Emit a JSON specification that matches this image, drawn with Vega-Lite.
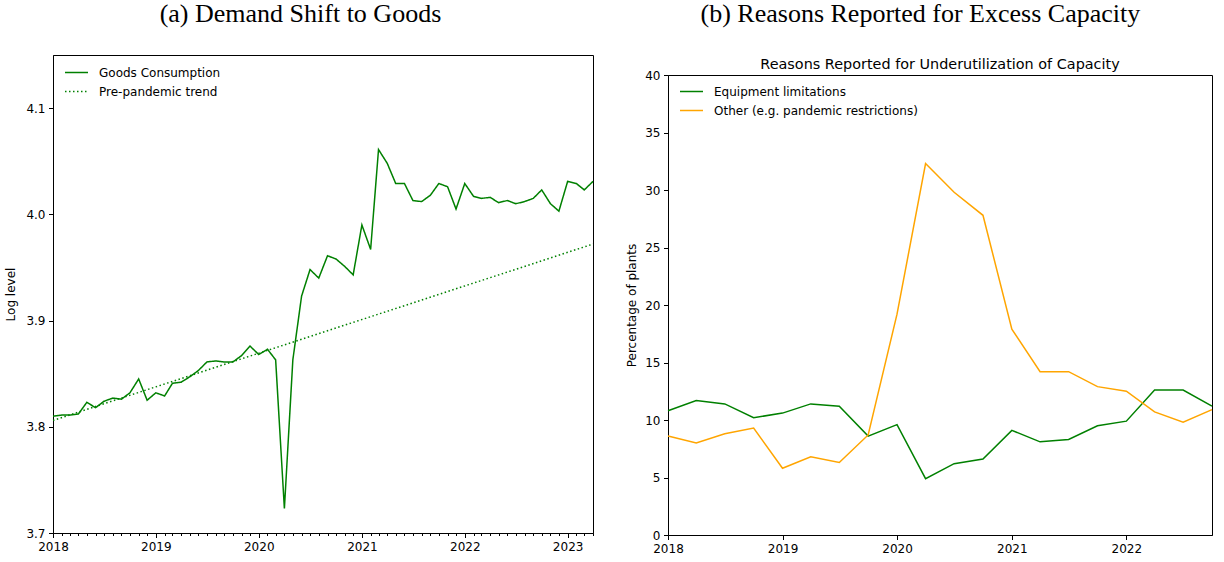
{
  "$schema": "https://vega.github.io/schema/vega-lite/v6.json",
  "background": "white",
  "padding": {"left": 4, "top": 0, "right": 8, "bottom": 4},
  "spacing": 28,
  "datasets": {
    "goods": [
      {"date": "2018-01-01", "value": 3.810, "series": "Goods Consumption"},
      {"date": "2018-02-01", "value": 3.811, "series": "Goods Consumption"},
      {"date": "2018-03-01", "value": 3.811, "series": "Goods Consumption"},
      {"date": "2018-04-01", "value": 3.812, "series": "Goods Consumption"},
      {"date": "2018-05-01", "value": 3.823, "series": "Goods Consumption"},
      {"date": "2018-06-01", "value": 3.818, "series": "Goods Consumption"},
      {"date": "2018-07-01", "value": 3.824, "series": "Goods Consumption"},
      {"date": "2018-08-01", "value": 3.827, "series": "Goods Consumption"},
      {"date": "2018-09-01", "value": 3.826, "series": "Goods Consumption"},
      {"date": "2018-10-01", "value": 3.832, "series": "Goods Consumption"},
      {"date": "2018-11-01", "value": 3.845, "series": "Goods Consumption"},
      {"date": "2018-12-01", "value": 3.825, "series": "Goods Consumption"},
      {"date": "2019-01-01", "value": 3.832, "series": "Goods Consumption"},
      {"date": "2019-02-01", "value": 3.829, "series": "Goods Consumption"},
      {"date": "2019-03-01", "value": 3.841, "series": "Goods Consumption"},
      {"date": "2019-04-01", "value": 3.842, "series": "Goods Consumption"},
      {"date": "2019-05-01", "value": 3.847, "series": "Goods Consumption"},
      {"date": "2019-06-01", "value": 3.853, "series": "Goods Consumption"},
      {"date": "2019-07-01", "value": 3.861, "series": "Goods Consumption"},
      {"date": "2019-08-01", "value": 3.862, "series": "Goods Consumption"},
      {"date": "2019-09-01", "value": 3.861, "series": "Goods Consumption"},
      {"date": "2019-10-01", "value": 3.861, "series": "Goods Consumption"},
      {"date": "2019-11-01", "value": 3.867, "series": "Goods Consumption"},
      {"date": "2019-12-01", "value": 3.876, "series": "Goods Consumption"},
      {"date": "2020-01-01", "value": 3.868, "series": "Goods Consumption"},
      {"date": "2020-02-01", "value": 3.873, "series": "Goods Consumption"},
      {"date": "2020-03-01", "value": 3.863, "series": "Goods Consumption"},
      {"date": "2020-04-01", "value": 3.723, "series": "Goods Consumption"},
      {"date": "2020-05-01", "value": 3.863, "series": "Goods Consumption"},
      {"date": "2020-06-01", "value": 3.923, "series": "Goods Consumption"},
      {"date": "2020-07-01", "value": 3.948, "series": "Goods Consumption"},
      {"date": "2020-08-01", "value": 3.940, "series": "Goods Consumption"},
      {"date": "2020-09-01", "value": 3.961, "series": "Goods Consumption"},
      {"date": "2020-10-01", "value": 3.958, "series": "Goods Consumption"},
      {"date": "2020-11-01", "value": 3.951, "series": "Goods Consumption"},
      {"date": "2020-12-01", "value": 3.943, "series": "Goods Consumption"},
      {"date": "2021-01-01", "value": 3.990, "series": "Goods Consumption"},
      {"date": "2021-02-01", "value": 3.967, "series": "Goods Consumption"},
      {"date": "2021-03-01", "value": 4.061, "series": "Goods Consumption"},
      {"date": "2021-04-01", "value": 4.048, "series": "Goods Consumption"},
      {"date": "2021-05-01", "value": 4.029, "series": "Goods Consumption"},
      {"date": "2021-06-01", "value": 4.029, "series": "Goods Consumption"},
      {"date": "2021-07-01", "value": 4.013, "series": "Goods Consumption"},
      {"date": "2021-08-01", "value": 4.012, "series": "Goods Consumption"},
      {"date": "2021-09-01", "value": 4.018, "series": "Goods Consumption"},
      {"date": "2021-10-01", "value": 4.029, "series": "Goods Consumption"},
      {"date": "2021-11-01", "value": 4.026, "series": "Goods Consumption"},
      {"date": "2021-12-01", "value": 4.005, "series": "Goods Consumption"},
      {"date": "2022-01-01", "value": 4.029, "series": "Goods Consumption"},
      {"date": "2022-02-01", "value": 4.017, "series": "Goods Consumption"},
      {"date": "2022-03-01", "value": 4.015, "series": "Goods Consumption"},
      {"date": "2022-04-01", "value": 4.016, "series": "Goods Consumption"},
      {"date": "2022-05-01", "value": 4.011, "series": "Goods Consumption"},
      {"date": "2022-06-01", "value": 4.013, "series": "Goods Consumption"},
      {"date": "2022-07-01", "value": 4.010, "series": "Goods Consumption"},
      {"date": "2022-08-01", "value": 4.012, "series": "Goods Consumption"},
      {"date": "2022-09-01", "value": 4.015, "series": "Goods Consumption"},
      {"date": "2022-10-01", "value": 4.023, "series": "Goods Consumption"},
      {"date": "2022-11-01", "value": 4.010, "series": "Goods Consumption"},
      {"date": "2022-12-01", "value": 4.003, "series": "Goods Consumption"},
      {"date": "2023-01-01", "value": 4.031, "series": "Goods Consumption"},
      {"date": "2023-02-01", "value": 4.029, "series": "Goods Consumption"},
      {"date": "2023-03-01", "value": 4.023, "series": "Goods Consumption"},
      {"date": "2023-04-01", "value": 4.031, "series": "Goods Consumption"},
      {"date": "2018-01-01", "value": 3.806, "series": "Pre-pandemic trend"},
      {"date": "2023-04-01", "value": 3.972, "series": "Pre-pandemic trend"}
    ],
    "capacity": [
      {"date": "2018-01-01", "pct": 10.8, "reason": "Equipment limitations"},
      {"date": "2018-04-01", "pct": 11.7, "reason": "Equipment limitations"},
      {"date": "2018-07-01", "pct": 11.4, "reason": "Equipment limitations"},
      {"date": "2018-10-01", "pct": 10.2, "reason": "Equipment limitations"},
      {"date": "2019-01-01", "pct": 10.6, "reason": "Equipment limitations"},
      {"date": "2019-04-01", "pct": 11.4, "reason": "Equipment limitations"},
      {"date": "2019-07-01", "pct": 11.2, "reason": "Equipment limitations"},
      {"date": "2019-10-01", "pct": 8.6, "reason": "Equipment limitations"},
      {"date": "2020-01-01", "pct": 9.6, "reason": "Equipment limitations"},
      {"date": "2020-04-01", "pct": 4.9, "reason": "Equipment limitations"},
      {"date": "2020-07-01", "pct": 6.2, "reason": "Equipment limitations"},
      {"date": "2020-10-01", "pct": 6.6, "reason": "Equipment limitations"},
      {"date": "2021-01-01", "pct": 9.1, "reason": "Equipment limitations"},
      {"date": "2021-04-01", "pct": 8.1, "reason": "Equipment limitations"},
      {"date": "2021-07-01", "pct": 8.3, "reason": "Equipment limitations"},
      {"date": "2021-10-01", "pct": 9.5, "reason": "Equipment limitations"},
      {"date": "2022-01-01", "pct": 9.9, "reason": "Equipment limitations"},
      {"date": "2022-04-01", "pct": 12.6, "reason": "Equipment limitations"},
      {"date": "2022-07-01", "pct": 12.6, "reason": "Equipment limitations"},
      {"date": "2022-10-01", "pct": 11.2, "reason": "Equipment limitations"},
      {"date": "2018-01-01", "pct": 8.6, "reason": "Other (e.g. pandemic restrictions)"},
      {"date": "2018-04-01", "pct": 8.0, "reason": "Other (e.g. pandemic restrictions)"},
      {"date": "2018-07-01", "pct": 8.8, "reason": "Other (e.g. pandemic restrictions)"},
      {"date": "2018-10-01", "pct": 9.3, "reason": "Other (e.g. pandemic restrictions)"},
      {"date": "2019-01-01", "pct": 5.8, "reason": "Other (e.g. pandemic restrictions)"},
      {"date": "2019-04-01", "pct": 6.8, "reason": "Other (e.g. pandemic restrictions)"},
      {"date": "2019-07-01", "pct": 6.3, "reason": "Other (e.g. pandemic restrictions)"},
      {"date": "2019-10-01", "pct": 8.7, "reason": "Other (e.g. pandemic restrictions)"},
      {"date": "2020-01-01", "pct": 19.2, "reason": "Other (e.g. pandemic restrictions)"},
      {"date": "2020-04-01", "pct": 32.3, "reason": "Other (e.g. pandemic restrictions)"},
      {"date": "2020-07-01", "pct": 29.8, "reason": "Other (e.g. pandemic restrictions)"},
      {"date": "2020-10-01", "pct": 27.8, "reason": "Other (e.g. pandemic restrictions)"},
      {"date": "2021-01-01", "pct": 17.9, "reason": "Other (e.g. pandemic restrictions)"},
      {"date": "2021-04-01", "pct": 14.2, "reason": "Other (e.g. pandemic restrictions)"},
      {"date": "2021-07-01", "pct": 14.2, "reason": "Other (e.g. pandemic restrictions)"},
      {"date": "2021-10-01", "pct": 12.9, "reason": "Other (e.g. pandemic restrictions)"},
      {"date": "2022-01-01", "pct": 12.5, "reason": "Other (e.g. pandemic restrictions)"},
      {"date": "2022-04-01", "pct": 10.7, "reason": "Other (e.g. pandemic restrictions)"},
      {"date": "2022-07-01", "pct": 9.8, "reason": "Other (e.g. pandemic restrictions)"},
      {"date": "2022-10-01", "pct": 10.9, "reason": "Other (e.g. pandemic restrictions)"}
    ]
  },
  "resolve": {
    "scale": {"color": "independent", "strokeDash": "independent"},
    "legend": {"color": "independent", "strokeDash": "independent"}
  },
  "hconcat": [
    {
      "title": {"text": "(a) Demand Shift to Goods", "frame": "bounds", "offset": 28},
      "width": 540,
      "height": 478,
      "data": {"name": "goods"},
      "mark": {"type": "line", "strokeWidth": 1.5},
      "encoding": {
        "x": {
          "field": "date",
          "type": "temporal",
          "title": null,
          "scale": {"domain": [{"year": 2018, "month": 1, "date": 1}, {"year": 2023, "month": 4, "date": 1}], "nice": false},
          "axis": {
            "tickCount": {"interval": "month", "step": 1},
            "labelExpr": "month(datum.value) === 0 ? timeFormat(datum.value, '%Y') : ''",
            "labelOverlap": false,
            "tickSize": {"condition": {"test": "month(datum.value) === 0", "value": 4.5}, "value": 2.5}
          }
        },
        "y": {
          "field": "value",
          "type": "quantitative",
          "title": "Log level",
          "scale": {"domain": [3.7, 4.15], "nice": false, "zero": false},
          "axis": {"values": [3.7, 3.8, 3.9, 4.0, 4.1], "format": ".1f", "titlePadding": 8}
        },
        "color": {
          "field": "series",
          "type": "nominal",
          "scale": {"domain": ["Goods Consumption", "Pre-pandemic trend"], "range": ["#008000", "#008000"]},
          "legend": {"orient": "none", "legendX": 11, "legendY": 5}
        },
        "strokeDash": {
          "field": "series",
          "type": "nominal",
          "scale": {"domain": ["Goods Consumption", "Pre-pandemic trend"], "range": [[1, 0], [1.5, 2.5]]},
          "legend": {"orient": "none", "legendX": 11, "legendY": 5}
        }
      }
    },
    {
      "title": {"text": "(b) Reasons Reported for Excess Capacity", "frame": "bounds", "offset": 28},
      "spacing": -24,
      "resolve": {"legend": {"color": "independent"}},
      "vconcat": [
        {
          "width": 544,
          "height": 0,
          "view": {"stroke": null},
          "data": {"values": []},
          "mark": "point"
        },
        {
          "title": {
            "text": "Reasons Reported for Underutilization of Capacity",
            "frame": "group",
            "font": "DejaVu Sans",
            "fontSize": 14.4,
            "offset": -3
          },
          "width": 544,
          "height": 460,
          "data": {"name": "capacity"},
          "mark": {"type": "line", "strokeWidth": 1.5},
          "encoding": {
            "x": {
              "field": "date",
              "type": "temporal",
              "title": null,
              "scale": {"domain": [{"year": 2018, "month": 1, "date": 1}, {"year": 2022, "month": 10, "date": 1}], "nice": false},
              "axis": {"tickCount": {"interval": "year", "step": 1}, "format": "%Y"}
            },
            "y": {
              "field": "pct",
              "type": "quantitative",
              "title": "Percentage of plants",
              "scale": {"domain": [0, 40], "nice": false},
              "axis": {"values": [0, 5, 10, 15, 20, 25, 30, 35, 40], "titlePadding": 6}
            },
            "color": {
              "field": "reason",
              "type": "nominal",
              "scale": {"domain": ["Equipment limitations", "Other (e.g. pandemic restrictions)"], "range": ["#008000", "#FFA500"]},
              "legend": {"orient": "none", "legendX": 11, "legendY": 4}
            }
          }
        }
      ]
    }
  ],
  "config": {
    "font": "DejaVu Sans",
    "view": {"stroke": "black", "strokeWidth": 1},
    "title": {
      "font": "Liberation Serif",
      "fontSize": 26,
      "fontWeight": "normal",
      "color": "black",
      "anchor": "middle"
    },
    "axis": {
      "grid": false,
      "labelFlush": false,
      "domainColor": "black",
      "tickColor": "black",
      "tickSize": 4.5,
      "labelFont": "DejaVu Sans",
      "labelFontSize": 12,
      "labelColor": "black",
      "labelPadding": 3.5,
      "titleFont": "DejaVu Sans",
      "titleFontSize": 12,
      "titleFontWeight": "normal",
      "titleColor": "black"
    },
    "legend": {
      "title": null,
      "symbolType": "stroke",
      "symbolSize": 529,
      "symbolStrokeWidth": 1.5,
      "labelFont": "DejaVu Sans",
      "labelFontSize": 12,
      "labelColor": "black",
      "labelLimit": 400,
      "rowPadding": 0,
      "labelOffset": 10
    }
  }
}
